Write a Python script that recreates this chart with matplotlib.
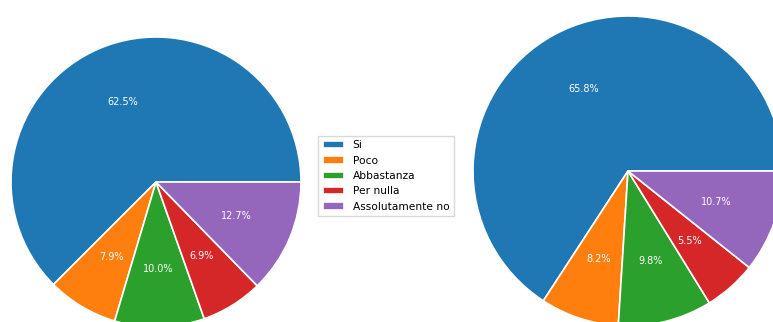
import matplotlib
matplotlib.use("Agg")
import matplotlib.pyplot as plt

labels = ["Si", "Poco", "Abbastanza", "Per nulla", "Assolutamente no"]
values_left = [62.5, 7.9, 10.0, 6.9, 12.7]
values_right = [65.8, 8.2, 9.8, 5.5, 10.7]
colors = ["#1f77b4", "#ff7f0e", "#2ca02c", "#d62728", "#9467bd"]

W, H = 773, 322
fig = plt.figure(figsize=(W / 100, H / 100), dpi=100)


def pie_axes(cx, cy, r):
    # axes square of side 2r centred on (cx, cy), given in pixels from top-left
    return fig.add_axes([(cx - r) / W, (H - cy - r) / H, 2 * r / W, 2 * r / H])


ax1 = pie_axes(156, 182, 145)
ax2 = pie_axes(628, 171, 155)

wedges = None
for ax, vals in ((ax1, values_left), (ax2, values_right)):
    w, _, autotexts = ax.pie(
        vals, colors=colors, autopct="%1.1f%%", startangle=0,
        wedgeprops=dict(edgecolor="white", linewidth=1.2),
        textprops=dict(color="white", fontsize=7),
    )
    ax.set_xlim(-1, 1)
    ax.set_ylim(-1, 1)
    ax.set_aspect("auto")
    if wedges is None:
        wedges = w

fig.legend(wedges, labels, loc="center", bbox_to_anchor=(386 / W, 1 - 176 / H),
           fontsize=7.7, frameon=True, fancybox=False, edgecolor="#d0d0d0")

fig.savefig("out.png", dpi=100)
